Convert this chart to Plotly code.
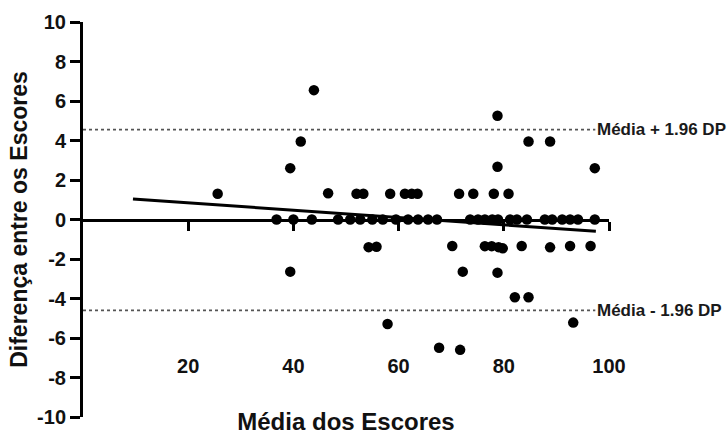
import plotly.graph_objects as go

# Bland-Altman data
media_escores = [
    25.6, 39.4, 41.4, 43.9, 46.6, 52.0, 53.3, 58.4, 61.2, 62.5, 63.6, 71.5, 74.2, 78.1, 80.9,
    78.8, 84.7, 88.8, 78.8, 97.3,
    36.8, 40.0, 43.5, 48.5, 50.8, 52.7, 55.0, 57.0, 59.5, 61.8, 63.7, 65.6, 67.3, 73.6, 75.1,
    76.4, 77.8, 78.9, 81.2, 82.5, 84.4, 87.8, 89.2, 91.1, 92.6, 94.1, 97.3,
    54.3, 55.8, 39.4, 57.9, 70.2, 76.4, 77.7, 79.0, 79.8, 83.4, 88.8, 92.6, 96.5,
    72.2, 78.8, 82.1, 84.7, 93.2, 67.7, 71.7,
]
diferenca_escores = [
    1.3, 2.6, 3.95, 6.55, 1.33, 1.3, 1.3, 1.3, 1.3, 1.3, 1.3, 1.3, 1.3, 1.3, 1.3,
    5.25, 3.95, 3.95, 2.67, 2.6,
    0, 0, 0, 0, 0, 0, 0, 0, 0, 0, 0, 0, 0, 0, 0,
    0, 0, 0, 0, 0, 0, 0, 0, 0, 0, 0, 0,
    -1.4, -1.38, -2.64, -5.29, -1.34, -1.35, -1.35, -1.4, -1.46, -1.34, -1.41, -1.34, -1.34,
    -2.64, -2.69, -3.94, -3.94, -5.22, -6.49, -6.6,
]

# Regression line endpoints
reg_x = [9.5, 97.5]
reg_y = [1.04, -0.6]

# Limits of agreement
loa_values = [4.55, -4.6]
loa_labels = ["Média + 1.96 DP", "Média - 1.96 DP"]
loa_x = [0, 97.4]

x_ticks = [20, 40, 60, 80, 100]
y_ticks = [-10, -8, -6, -4, -2, 0, 2, 4, 6, 8, 10]
y_ticktext = [str(v) for v in y_ticks]  # ASCII hyphen as in the original

FONT = "Liberation Sans, Arial, Helvetica, sans-serif"

fig = go.Figure()

for v in loa_values:
    fig.add_trace(go.Scatter(
        x=loa_x, y=[v, v], mode="lines",
        line=dict(color="#555555", width=1.6, dash="dot"),
        hoverinfo="skip", showlegend=False,
    ))

fig.add_trace(go.Scatter(
    x=reg_x, y=reg_y, mode="lines",
    line=dict(color="black", width=3),
    showlegend=False,
))

fig.add_trace(go.Scatter(
    x=media_escores, y=diferenca_escores, mode="markers",
    marker=dict(color="black", size=10.5),
    showlegend=False, cliponaxis=False,
))

for v, lab in zip(loa_values, loa_labels):
    fig.add_annotation(
        x=loa_x[1], y=v, text=lab, showarrow=False,
        xanchor="left", yanchor="middle", xshift=0,
        font=dict(family=FONT, size=17, color="#1a1a1a", weight="bold"),
    )

fig.update_layout(
    width=728, height=435,
    margin=dict(l=83, r=119, t=22, b=18),
    paper_bgcolor="white", plot_bgcolor="white",
    font=dict(family=FONT, color="#111111", weight="bold"),
    xaxis=dict(
        range=[0, 100], tickvals=x_ticks,
        showgrid=False, zeroline=False, automargin=False,
        showline=True, linecolor="black", linewidth=3,
        ticks="outside", ticklen=9, tickwidth=3, tickcolor="black",
        anchor="free", position=0.5,
        ticklabelstandoff=118,
        tickfont=dict(family=FONT, size=20, color="#111111", weight="bold"),
        title=dict(text="Média dos Escores", standoff=42,
                   font=dict(family=FONT, size=24, color="#111111", weight="bold")),
    ),
    yaxis=dict(
        range=[-10, 10], tickvals=y_ticks, ticktext=y_ticktext,
        showgrid=False, zeroline=False, automargin=False,
        showline=True, linecolor="black", linewidth=3,
        ticks="outside", ticklen=10, tickwidth=3, tickcolor="black",
        tickfont=dict(family=FONT, size=20, color="#111111", weight="bold"),
        title=dict(text="Diferença entre os Escores", standoff=4,
                   font=dict(family=FONT, size=23, color="#111111", weight="bold")),
    ),
)

fig.write_html("out.html")
